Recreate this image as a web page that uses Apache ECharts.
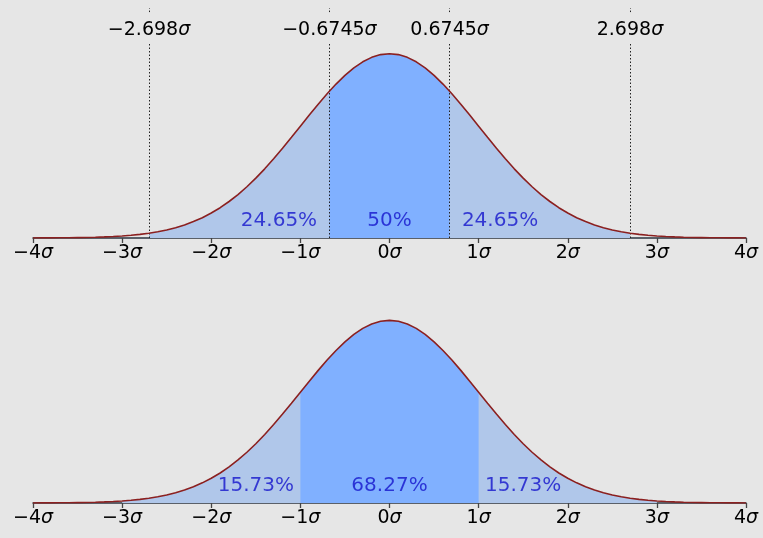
<!DOCTYPE html>
<html>
<head>
<meta charset="utf-8">
<script src="https://cdn.jsdelivr.net/npm/echarts@6/dist/echarts.min.js"></script>
<style>html,body{margin:0;padding:0;background:#e6e6e6;}#c{width:763px;height:538px;}</style>
</head>
<body>
<div id="c"></div>
<script>
// Curve points (x in σ, density)
const curveX = [-4.0,-3.9,-3.8,-3.7,-3.6,-3.5,-3.4,-3.3,-3.2,-3.1,-3.0,-2.9,-2.8,-2.7,-2.6,-2.5,-2.4,-2.3,-2.2,-2.1,-2.0,-1.9,-1.8,-1.7,-1.6,-1.5,-1.4,-1.3,-1.2,-1.1,-1.0,-0.9,-0.8,-0.7,-0.6,-0.5,-0.4,-0.3,-0.2,-0.1,0.0,0.1,0.2,0.3,0.4,0.5,0.6,0.7,0.8,0.9,1.0,1.1,1.2,1.3,1.4,1.5,1.6,1.7,1.8,1.9,2.0,2.1,2.2,2.3,2.4,2.5,2.6,2.7,2.8,2.9,3.0,3.1,3.2,3.3,3.4,3.5,3.6,3.7,3.8,3.9,4.0];
const curveY = [0.0001,0.0002,0.0003,0.0004,0.0006,0.0009,0.0012,0.0017,0.0024,0.0033,0.0044,0.0060,0.0079,0.0104,0.0136,0.0175,0.0224,0.0283,0.0355,0.0440,0.0540,0.0656,0.0790,0.0940,0.1109,0.1295,0.1497,0.1714,0.1942,0.2179,0.2420,0.2661,0.2897,0.3123,0.3332,0.3521,0.3683,0.3814,0.3910,0.3970,0.3989,0.3970,0.3910,0.3814,0.3683,0.3521,0.3332,0.3123,0.2897,0.2661,0.2420,0.2179,0.1942,0.1714,0.1497,0.1295,0.1109,0.0940,0.0790,0.0656,0.0540,0.0440,0.0355,0.0283,0.0224,0.0175,0.0136,0.0104,0.0079,0.0060,0.0044,0.0033,0.0024,0.0017,0.0012,0.0009,0.0006,0.0004,0.0003,0.0002,0.0001];

// Top panel boundaries
const topBoundX = [-2.698, -0.6745, 0.6745, 2.698];
const topBoundY = [0.0104, 0.3178, 0.3178, 0.0104];
const topBoundLabels = ['\u22122.698', '\u22120.6745', '0.6745', '2.698'];
const topPctText = ['24.65%', '50%', '24.65%'];
const topPctX = [-1.24, 0, 1.24];
const topPctY = 0.038;

// Bottom panel boundaries
const botBoundX = [-3, -1, 1, 3];
const botBoundY = [0.0044, 0.2420, 0.2420, 0.0044];
const botPctText = ['15.73%', '68.27%', '15.73%'];
const botPctX = [-1.5, 0, 1.5];
const botPctY = 0.037;

function region(lo, loY, hi, hiY) {
  const pts = [[lo, loY]];
  for (let i = 0; i < curveX.length; i++) {
    if (curveX[i] > lo && curveX[i] < hi) pts.push([curveX[i], curveY[i]]);
  }
  pts.push([hi, hiY]);
  return pts;
}
const curve = curveX.map((x, i) => [x, curveY[i]]);

const LIGHT = '#b0c7ea', DARK = '#80b0ff', LINE = '#8b2020', TXT = '#1414cc';
const FONT = 'DejaVu Sans';

function xAxisCfg(gi) {
  return {
    gridIndex: gi, type: 'value', min: -4, max: 4, interval: 1,
    axisLine: { show: true, onZero: false, lineStyle: { color: '#2d3540', width: 1.5 } },
    axisTick: { show: true, inside: false, length: 5, lineStyle: { color: '#444', width: 1.3 } },
    splitLine: { show: false },
    axisLabel: {
      margin: 6, color: '#000',
      formatter: v => '{n|' + (v < 0 ? '\u2212' + (-v) : v) + '}{s|\u03c3}',
      rich: {
        n: { fontFamily: FONT, fontSize: 19, color: '#000' },
        s: { fontFamily: FONT, fontSize: 19, fontStyle: 'italic', color: '#000' }
      }
    }
  };
}
function areaSeries(gi, data, color, z) {
  return {
    type: 'line', xAxisIndex: gi, yAxisIndex: gi, data: data, symbol: 'none',
    lineStyle: { width: 0 }, areaStyle: { color: color, opacity: 1 }, z: z, silent: true
  };
}
function textSeries(gi, xs, y, texts) {
  return {
    type: 'scatter', xAxisIndex: gi, yAxisIndex: gi, symbolSize: 1,
    itemStyle: { color: 'rgba(0,0,0,0)' }, z: 10, silent: true,
    data: xs.map((x, i) => [x, y, texts[i]]),
    label: { show: true, position: 'inside', formatter: p => p.data[2],
      fontFamily: FONT, fontSize: 20, color: TXT }
  };
}

const dotStyle = { type: [1.5, 2], color: '#222', width: 1 };

const option = {
  backgroundColor: '#e6e6e6',
  animation: false,
  grid: [
    { left: 33, right: 17, top: 7, height: 231 },
    { left: 33, right: 17, top: 297, height: 206 }
  ],
  xAxis: [xAxisCfg(0), xAxisCfg(1)],
  yAxis: [
    { gridIndex: 0, type: 'value', min: 0, max: 0.5, show: false },
    { gridIndex: 1, type: 'value', min: 0, max: 0.45, show: false }
  ],
  series: [
    Object.assign(areaSeries(0, region(topBoundX[0], topBoundY[0], topBoundX[3], topBoundY[3]), LIGHT, 1), {
      markLine: {
        silent: true, symbol: 'none', label: { show: false }, lineStyle: dotStyle,
        data: topBoundX.map(x => [{ coord: [x, 0.489] }, { coord: [x, 0.4978] }])
      }
    }),
    areaSeries(0, region(topBoundX[1], topBoundY[1], topBoundX[2], topBoundY[2]), DARK, 2),
    {
      type: 'line', xAxisIndex: 0, yAxisIndex: 0, data: curve, symbol: 'none', z: 5, silent: true,
      lineStyle: { color: LINE, width: 1.6 },
      markLine: {
        silent: true, symbol: 'none', lineStyle: dotStyle,
        label: {
          show: true, position: 'end', distance: 3,
          formatter: p => '{n|' + topBoundLabels[p.dataIndex] + '}{s|\u03c3}',
          rich: {
            n: { fontFamily: FONT, fontSize: 19, color: '#000' },
            s: { fontFamily: FONT, fontSize: 19, fontStyle: 'italic', color: '#000' }
          }
        },
        data: topBoundX.map(x => [{ coord: [x, 0] }, { coord: [x, 0.422] }])
      }
    },
    textSeries(0, topPctX, topPctY, topPctText),

    areaSeries(1, region(botBoundX[0], botBoundY[0], botBoundX[3], botBoundY[3]), LIGHT, 1),
    areaSeries(1, region(botBoundX[1], botBoundY[1], botBoundX[2], botBoundY[2]), DARK, 2),
    {
      type: 'line', xAxisIndex: 1, yAxisIndex: 1, data: curve, symbol: 'none', z: 5, silent: true,
      lineStyle: { color: LINE, width: 1.6 }
    },
    textSeries(1, botPctX, botPctY, botPctText)
  ]
};
const chart = echarts.init(document.getElementById('c'), null, { renderer: 'canvas' });
chart.setOption(option);
</script>
</body>
</html>
